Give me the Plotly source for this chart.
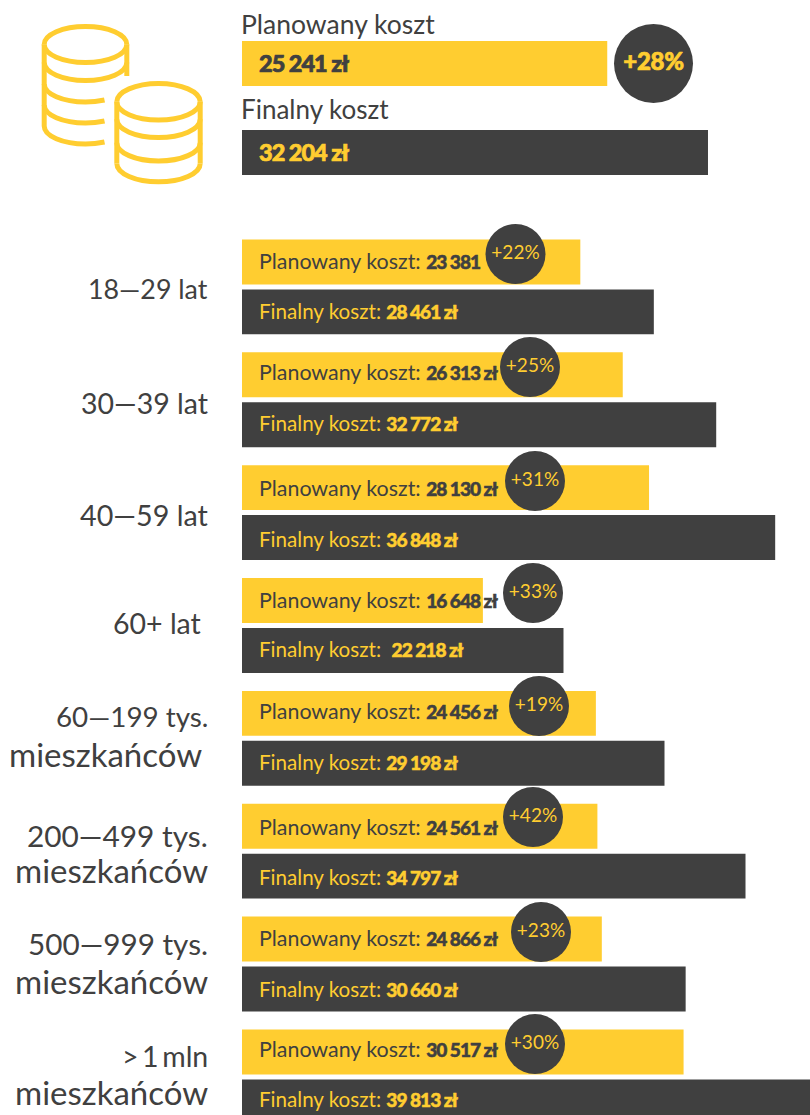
import plotly.graph_objects as go

# ---------- data ----------
TOTAL_LABELS = ["Planowany koszt", "Finalny koszt"]
TOTAL_VALUES = [25241, 32204]
TOTAL_DELTA = "+28%"

GROUPS = ["18–29 lat", "30–39 lat", "40–59 lat", "60+ lat",
          "60–199 tys. mieszkańców", "200–499 tys. mieszkańców",
          "500–999 tys. mieszkańców", "> 1 mln mieszkańców"]
PLANNED = [23381, 26313, 28130, 16648, 24456, 24561, 24866, 30517]
FINAL = [28461, 32772, 36848, 22218, 29198, 34797, 30660, 39813]
DELTAS = ["+22%", "+25%", "+31%", "+33%", "+19%", "+42%", "+23%", "+30%"]
PLANNED_SUFFIX = ["", " zł", " zł", " zł", " zł", " zł", " zł", " zł"]
FINAL_GAP = ["", "", "", "\u00a0", "", "", "", ""]
LINE_1 = ["18—29 lat", "30—39 lat", "40—59 lat", "60+ lat",
          "60—199 tys.", "200—499 tys.", "500—999 tys.", ">\u20091\u2009mln"]
LINE_2 = ["", "", "", "", "mieszkańców", "mieszkańców", "mieszkańców", "mieszkańców"]

# ---------- layout constants ----------
W, H = 810, 1115
YELLOW, DARK = "#FFCD30", "#404040"
FONT = "Lato"
PX_PER_ZL = 0.01447
BASE_PX = 242
PITCH = 112.857
FIRST_CENTER = 286.9
LINE1_Y_PX = [289, 403, 515, 623, 716, 835, 943, 1056]
LINE2_Y_PX = [0, 0, 0, 0, 754, 870, 981, 1092]
LINE1_RIGHT_PX = [210, 210, 210, 203, 210, 210, 210, 210]
LINE2_RIGHT_PX = [0, 0, 0, 0, 204, 210, 210, 210]
LINE1_SIZE = [26.8, 28.5, 28.7, 28.5, 27.8, 29.8, 29.7, 28.5]
PLANNED_DY = [0, 2, -1, -1, 1, -2, 0, 2]
FINAL_DY = [0, 1, -2, 0, 0, -2, -1, 2]
BADGE_X_PX = [515.5, 530, 535, 533, 539, 533, 541, 535]
BADGE_Y_PX = [254, 367, 481, 593, 706, 817, 932, 1044]


def fmt(v):
    return f"{v:,}".replace(",", " ")


def heavy(s, color, spacing=-1.0, stroke=0.5, size=None):
    fs = f"font-size:{size}px;" if size else ""
    return (f'<span style="{fs}font-weight:900;letter-spacing:{spacing}px;'
            f'stroke:{color};stroke-width:{stroke}px">{s}</span>')


def px_x(px):
    return px / W


def px_y(px):
    return 1 - px / H


fig = go.Figure()

# main grouped bars
fig.add_trace(go.Bar(y=GROUPS, x=PLANNED, orientation="h", marker_color=YELLOW,
                     marker_line_width=0, xaxis="x", yaxis="y", offsetgroup="p"))
fig.add_trace(go.Bar(y=GROUPS, x=FINAL, orientation="h", marker_color=DARK,
                     marker_line_width=0, xaxis="x", yaxis="y", offsetgroup="f"))
# top panel bars
fig.add_trace(go.Bar(y=TOTAL_LABELS, x=TOTAL_VALUES, orientation="h",
                     marker_color=[YELLOW, DARK], marker_line_width=0,
                     width=45 / 89, xaxis="x", yaxis="y2"))
# badges
fig.add_trace(go.Scatter(x=[(p - BASE_PX) / PX_PER_ZL for p in BADGE_X_PX], y=BADGE_Y_PX,
                         mode="markers+text", text=DELTAS, textposition="middle center",
                         textfont=dict(family=FONT, size=19, color=YELLOW),
                         marker=dict(size=60, color=DARK, line_width=0),
                         xaxis="x", yaxis="y3", cliponaxis=False))
fig.add_trace(go.Scatter(x=[(653.5 - BASE_PX) / PX_PER_ZL], y=[63.5],
                         mode="markers+text", text=[heavy(TOTAL_DELTA, YELLOW, -0.3, 0.7)],
                         textposition="middle center",
                         textfont=dict(family=FONT, size=24, color=YELLOW),
                         marker=dict(size=79, color=DARK, line_width=0),
                         xaxis="x", yaxis="y3", cliponaxis=False))

ann = []
# top panel text
ann.append(dict(x=px_x(239), y=px_y(24), xref="paper", yref="paper", xanchor="left", yanchor="middle",
                text=TOTAL_LABELS[0], showarrow=False, font=dict(family=FONT, size=26.5, color=DARK)))
ann.append(dict(x=px_x(239), y=px_y(109), xref="paper", yref="paper", xanchor="left", yanchor="middle",
                text=TOTAL_LABELS[1], showarrow=False, font=dict(family=FONT, size=26, color=DARK)))
for lab, val, col in zip(TOTAL_LABELS, TOTAL_VALUES, [DARK, YELLOW]):
    ann.append(dict(x=0, y=lab, xref="x", yref="y2", xshift=15, xanchor="left", yanchor="middle",
                    text=heavy(f"{fmt(val)} zł", col, -1.0, 0.7, size=23.5), showarrow=False,
                    font=dict(family=FONT, size=24, color=col)))
# row text
for i, g in enumerate(GROUPS):
    ann.append(dict(x=0, y=g, xref="x", yref="y", xshift=14.5, yshift=26 + PLANNED_DY[i],
                    xanchor="left", yanchor="middle",
                    text=f"Planowany koszt: {heavy(fmt(PLANNED[i]) + PLANNED_SUFFIX[i], DARK, size=19.1)}",
                    showarrow=False, font=dict(family=FONT, size=21.4, color=DARK)))
    ann.append(dict(x=0, y=g, xref="x", yref="y", xshift=14.5, yshift=-24 + FINAL_DY[i],
                    xanchor="left", yanchor="middle",
                    text=f"Finalny koszt: {FINAL_GAP[i]}{heavy(fmt(FINAL[i]) + ' zł', YELLOW, size=19.1)}",
                    showarrow=False, font=dict(family=FONT, size=20.6, color=YELLOW)))
    ann.append(dict(x=px_x(LINE1_RIGHT_PX[i]), y=px_y(LINE1_Y_PX[i]), xref="paper", yref="paper",
                    xanchor="right", yanchor="middle", text=LINE_1[i],
                    showarrow=False, font=dict(family=FONT, size=LINE1_SIZE[i], color=DARK)))
    if LINE_2[i]:
        ann.append(dict(x=px_x(LINE2_RIGHT_PX[i]), y=px_y(LINE2_Y_PX[i]), xref="paper", yref="paper",
                        xanchor="right", yanchor="middle", text=LINE_2[i],
                        showarrow=False, font=dict(family=FONT, size=33, color=DARK)))


# coin icon
def lower_half(cx, cy, rx, ry, end_x=None):
    k = 0.5523
    d = (f"M{px_x(cx-rx)},{px_y(cy)} C{px_x(cx-rx)},{px_y(cy+k*ry)} {px_x(cx-k*rx)},{px_y(cy+ry)} "
         f"{px_x(cx)},{px_y(cy+ry)}")
    if end_x is None:
        d += f" C{px_x(cx+k*rx)},{px_y(cy+ry)} {px_x(cx+rx)},{px_y(cy+k*ry)} {px_x(cx+rx)},{px_y(cy)}"
    else:
        t = (end_x - cx) / rx
        yy = cy + ry * (1 - t * t) ** 0.5
        d += f" Q{px_x((cx+end_x)/2)},{px_y(cy+ry)} {px_x(end_x)},{px_y(yy)}"
    return d


def upper_half(cx, cy, rx, ry):
    k = 0.5523
    return (f"M{px_x(cx-rx)},{px_y(cy)} C{px_x(cx-rx)},{px_y(cy-k*ry)} {px_x(cx-k*rx)},{px_y(cy-ry)} "
            f"{px_x(cx)},{px_y(cy-ry)} C{px_x(cx+k*rx)},{px_y(cy-ry)} {px_x(cx+rx)},{px_y(cy-k*ry)} "
            f"{px_x(cx+rx)},{px_y(cy)}")


def line(x0, y0, x1, y1):
    return f"M{px_x(x0)},{px_y(y0)} L{px_x(x1)},{px_y(y1)}"


icon = [
    upper_half(85.5, 44.5, 41.3, 18), lower_half(85.5, 44.5, 41.3, 18),
    lower_half(85.5, 62.5, 41.3, 18),
    lower_half(85.5, 84, 41.3, 18, 104.5), lower_half(85.5, 105, 41.3, 18, 104.5),
    lower_half(85.5, 126, 41.3, 18, 104.5),
    line(44.2, 44.5, 44.2, 126), line(126.8, 44.5, 126.8, 76),
    upper_half(158.5, 101.8, 41.7, 18.3), lower_half(158.5, 101.8, 41.7, 18.3),
    lower_half(158.5, 119.3, 41.7, 18.3), lower_half(158.5, 142.7, 41.7, 18.3),
    lower_half(158.5, 163.5, 41.7, 18.3),
    line(116.8, 101.8, 116.8, 163.5), line(200.2, 101.8, 200.2, 163.5),
]
shapes = [dict(type="path", path=p, xref="paper", yref="paper",
               line=dict(color=YELLOW, width=5), layer="above") for p in icon]

hidden = dict(visible=False, showgrid=False, zeroline=False, fixedrange=True)
fig.update_layout(
    width=W, height=H, margin=dict(l=0, r=0, t=0, b=0),
    paper_bgcolor="white", plot_bgcolor="rgba(0,0,0,0)",
    barmode="group", bargap=13 / PITCH, bargroupgap=0.1, showlegend=False, hovermode=False,
    xaxis=dict(domain=[BASE_PX / W, 1], range=[0, (W - BASE_PX) / PX_PER_ZL], **hidden),
    yaxis=dict(domain=[0, px_y(FIRST_CENTER - PITCH / 2)], type="category",
               categoryorder="array", categoryarray=GROUPS,
               range=[(H - (FIRST_CENTER - PITCH / 2)) / PITCH - 0.5, -0.5], **hidden),
    yaxis2=dict(domain=[px_y(197), px_y(19)], type="category", categoryorder="array",
                categoryarray=TOTAL_LABELS, range=[1.5, -0.5], **hidden),
    yaxis3=dict(domain=[0, 1], range=[H, 0], **hidden),
    annotations=ann, shapes=shapes,
)
fig.write_html("out.html", config={"displayModeBar": False},
               post_script="document.body.style.margin='0';document.body.style.overflow='hidden';")
